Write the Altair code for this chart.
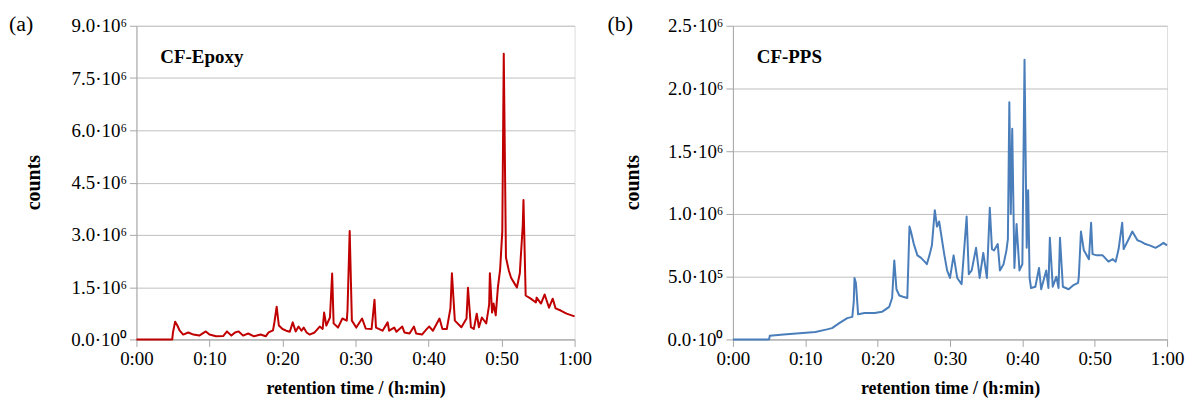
import altair as alt
import pandas as pd

# ---- data (counts in units of 10^6, time in minutes) ----
t_epoxy = [0, 4.9, 5.0, 5.3, 5.6, 5.9, 6.4, 7.1, 7.8, 8.6, 9.5, 10.0, 10.9, 11.9, 12.4, 13.0,
           13.5, 14.0, 14.6, 15.3, 16.1, 17.0, 17.7, 18.1, 18.7, 18.9, 19.2, 19.5, 20.0, 20.5,
           21.0, 21.4, 21.8, 22.2, 22.6, 22.9, 23.3, 23.7, 24.4, 25.1, 25.5, 25.7, 26.0, 26.5,
           26.8, 27.0, 27.6, 28.2, 28.8, 28.9, 29.2, 29.5, 30.1, 30.9, 31.4, 32.2, 32.6, 32.8,
           33.7, 34.4, 34.6, 35.3, 35.6, 36.4, 36.7, 37.4, 38.0, 38.3, 39.1, 39.8, 40.1, 40.6,
           41.5, 41.9, 42.5, 43.0, 43.2, 43.6, 44.5, 45.2, 45.4, 45.8, 46.2, 46.6, 46.9, 47.3,
           47.9, 48.3, 48.4, 48.7, 48.9, 49.2, 49.5, 49.8, 50.1, 50.3, 50.6, 51.0, 51.3, 51.7,
           52.1, 52.5, 52.6, 52.9, 53.0, 53.3, 54.0, 54.7, 54.8, 55.4, 55.9, 56.5, 57.0, 57.4,
           58.1, 58.9, 60.0]
c_epoxy = [0, 0, 0.2, 0.51, 0.4, 0.26, 0.14, 0.2, 0.14, 0.11, 0.23, 0.14, 0.09, 0.1, 0.23, 0.11,
           0.2, 0.23, 0.11, 0.17, 0.09, 0.14, 0.09, 0.2, 0.26, 0.5, 0.94, 0.4, 0.3, 0.25,
           0.22, 0.49, 0.23, 0.37, 0.25, 0.34, 0.2, 0.14, 0.2, 0.37, 0.3, 0.77, 0.4, 0.63,
           1.89, 0.46, 0.34, 0.6, 0.54, 0.83, 3.11, 0.54, 0.34, 0.6, 0.31, 0.3, 1.14, 0.34,
           0.25, 0.49, 0.25, 0.34, 0.22, 0.37, 0.2, 0.17, 0.37, 0.17, 0.14, 0.31, 0.37, 0.25,
           0.6, 0.3, 0.3, 0.9, 1.9, 0.54, 0.35, 0.6, 1.48, 0.35, 0.3, 0.74, 0.35, 0.63,
           0.46, 1.0, 1.9, 0.77, 1.03, 0.69, 1.5, 2.0, 3.1, 8.2, 2.35, 1.97, 1.77, 1.63,
           1.49, 1.9, 2.26, 3.26, 4.0, 1.26, 1.17, 1.06, 1.2, 1.03, 1.29, 0.91, 1.17, 0.89,
           0.83, 0.74, 0.66]

t_pps = [0, 5.0, 5.1, 7.0, 9.2, 11.4, 13.0, 13.7, 14.7, 15.8, 16.5, 16.7, 16.8, 17.0, 17.3,
         18.2, 19.6, 20.6, 21.6, 22.0, 22.3, 22.6, 23.0, 23.5, 24.1, 24.4, 24.6, 25.0, 25.5,
         26.0, 26.5, 26.8, 27.2, 27.5, 27.9, 28.2, 28.5, 29.2, 29.6, 30.0, 30.5, 31.0, 31.6,
         32.3, 32.6, 33.0, 33.6, 34.1, 34.6, 35.1, 35.5, 35.8, 36.1, 36.6, 36.9, 37.4, 37.8,
         38.0, 38.2, 38.4, 38.6, 38.9, 39.2, 39.6, 40.0, 40.3, 40.6, 40.8, 41.0, 41.2, 41.8,
         42.3, 42.6, 43.3, 43.6, 43.8, 44.2, 44.7, 45.0, 45.2, 45.6, 46.4, 47.0, 47.7, 47.8,
         48.1, 48.5, 49.2, 49.5, 49.7, 50.3, 51.1, 51.9, 52.5, 52.9, 53.3, 53.8, 54.0, 54.7,
         55.2, 55.9, 56.4, 57.0, 57.6, 58.4, 59.0, 59.5, 60.0]
c_pps = [0, 0, 0.03, 0.04, 0.05, 0.06, 0.08, 0.09, 0.13, 0.17, 0.18, 0.3, 0.49, 0.45, 0.2,
         0.21, 0.21, 0.22, 0.26, 0.33, 0.63, 0.4, 0.35, 0.34, 0.33, 0.9, 0.86, 0.76, 0.67,
         0.65, 0.62, 0.6, 0.68, 0.75, 1.03, 0.9, 0.94, 0.68, 0.55, 0.49, 0.67, 0.49, 0.44,
         0.98, 0.52, 0.55, 0.73, 0.49, 0.69, 0.49, 1.05, 0.72, 0.71, 0.76, 0.55, 0.6, 0.71,
         0.8, 1.89, 1.0, 1.68, 0.57, 0.92, 0.55, 0.6, 2.23, 0.73, 1.19, 0.49, 0.41, 0.42,
         0.57, 0.4, 0.55, 0.41, 0.81, 0.42, 0.5, 0.41, 0.81, 0.42, 0.4, 0.43, 0.45, 0.5,
         0.86, 0.71, 0.64, 0.93, 0.68, 0.67, 0.67, 0.62, 0.64, 0.62, 0.72, 0.93, 0.72, 0.8,
         0.86, 0.79, 0.78, 0.76, 0.75, 0.73, 0.75, 0.77, 0.75]

x_ticks = [0, 10, 20, 30, 40, 50, 60]
y_ticks_epoxy = [0, 1.5, 3.0, 4.5, 6.0, 7.5, 9.0]
y_ticks_pps = [0, 0.5, 1.0, 1.5, 2.0, 2.5]

FONT = "Liberation Serif"
GRID = "#bfbfbf"
AXC = "#a6a6a6"

df_e = pd.DataFrame({"t": t_epoxy, "c": c_epoxy})
df_p = pd.DataFrame({"t": t_pps, "c": c_pps})

x_label_expr = ("floor(datum.value/60) + ':' + (datum.value % 60 < 10 ? '0' : '') + (datum.value % 60)")


def x_enc():
    return alt.X("t:Q", scale=alt.Scale(domain=[0, 60], nice=False),
                 axis=alt.Axis(values=x_ticks, labelExpr=x_label_expr, grid=False,
                               labelFlush=False,
                               title="retention time / (h:min)", titleFont=FONT,
                               titleFontSize=18, titleFontWeight="bold", titleColor="black",
                               titlePadding=11,
                               labelFont=FONT, labelFontSize=19, labelColor="black",
                               labelPadding=3, tickSize=7, tickColor=AXC,
                               domainColor=AXC))


def panel(df, color, yticks, ymax, label_expr, name, letter, letter_x, title_x, w):
    line = alt.Chart(df).mark_line(color=color, strokeWidth=2, strokeJoin="round").encode(
        x=x_enc(),
        y=alt.Y("c:Q", scale=alt.Scale(domain=[0, ymax], nice=False),
                axis=alt.Axis(values=yticks, labelExpr=label_expr, grid=True, gridColor=GRID,
                              title="counts", titleFont=FONT, titleFontSize=20,
                              titleFontWeight="bold", titleColor="black",
                              titleX=title_x, titleY=157, titleAlign="center",
                              titleBaseline="middle", titleAngle=-90,
                              labelFont=FONT, labelFontSize=19, labelColor="black",
                              labelPadding=3, tickSize=7, tickColor=AXC,
                              domainColor=AXC))
    )
    name_txt = alt.Chart(pd.DataFrame({"s": [name]})).mark_text(
        align="left", baseline="middle", font=FONT, fontSize=19, fontWeight="bold", color="black"
    ).encode(text="s:N", x=alt.value(24), y=alt.value(31))
    letter_txt = alt.Chart(pd.DataFrame({"s": [letter]})).mark_text(
        align="left", baseline="middle", font=FONT, fontSize=22, color="black"
    ).encode(text="s:N", x=alt.value(letter_x), y=alt.value(-2))
    return alt.layer(line, name_txt, letter_txt).properties(width=w, height=315)


lab_e = "datum.value == 0 ? '0.0·10⁰' : format(datum.value, '.1f') + '·10⁶'"
lab_p = ("datum.value == 0 ? '0.0·10⁰' : (datum.value < 1 ? format(datum.value * 10, '.1f') + '·10⁵'"
         " : format(datum.value, '.1f') + '·10⁶')")

pa = panel(df_e, "#c00000", y_ticks_epoxy, 9.0, lab_e, "CF-Epoxy", "(a)", -128, -103, 440)
pb = panel(df_p, "#4a7ebb", y_ticks_pps, 2.5, lab_p, "CF-PPS", "(b)", -126, -101, 436)

chart = alt.hconcat(pa, pb, spacing=14).properties(
    padding={"left": 0, "top": 3, "right": 0, "bottom": 5}
).configure_view(stroke=AXC, strokeWidth=1).configure(background="white")

chart.save("out.html", embed_options={"renderer": "svg", "actions": False})
